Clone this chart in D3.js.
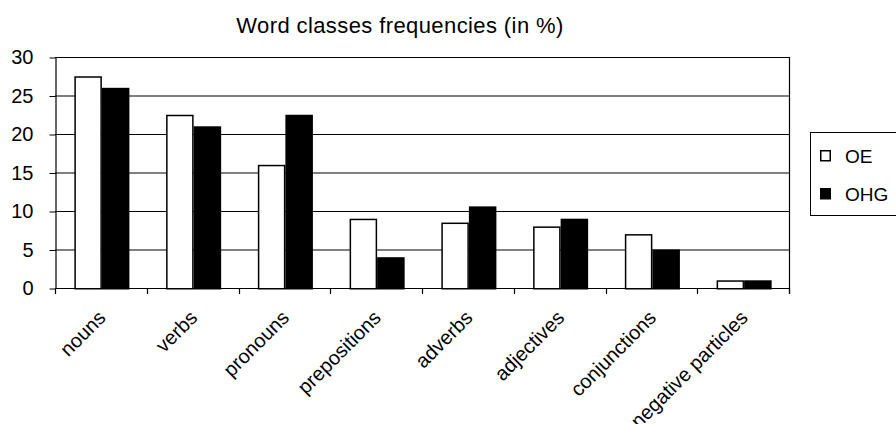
<!DOCTYPE html>
<html>
<head>
<meta charset="utf-8">
<script src="https://cdn.jsdelivr.net/npm/d3@7"></script>
<style>
  body { margin: 0; background: #fff; }
  svg { display: block; font-family: "Liberation Sans", Arial, sans-serif; }
</style>
</head>
<body>
<div id="chart"></div>
<script>
const categories = ["nouns", "verbs", "pronouns", "prepositions", "adverbs", "adjectives", "conjunctions", "negative particles"];
const seriesNames = ["OE", "OHG"];
const oe  = [27.5, 22.5, 16, 9, 8.5, 8, 7, 1];
const ohg = [26, 21, 22.5, 4, 10.6, 9, 5, 1];
const yTicks = [0, 5, 10, 15, 20, 25, 30];
const title = "Word classes frequencies (in %)";

const width = 896, height = 424;
const mLeft = 55, mRight = 789, mTop = 57, mBottom = 288;

let svg = d3.select("#chart").append("svg")
    .attr("width", width)
    .attr("height", height);

const x = d3.scaleBand().domain(categories).range([mLeft, mRight]).paddingInner(0.4).paddingOuter(0.2);
const x1 = d3.scaleBand().domain(seriesNames).range([0, x.bandwidth()]);
const y = d3.scaleLinear().domain([0, 30]).range([mBottom, mTop]);
const fills = {OE: "#fff", OHG: "#000"};

// gridlines
svg.append("g").selectAll("line")
    .data(yTicks)
    .join("line")
    .attr("x1", mLeft).attr("x2", mRight)
    .attr("y1", d => y(d) + 0.5).attr("y2", d => y(d) + 0.5)
    .attr("stroke", "#000").attr("stroke-width", 1.2);

// right border
svg.append("line")
    .attr("x1", mRight + 0.5).attr("x2", mRight + 0.5)
    .attr("y1", mTop).attr("y2", mBottom + 6)
    .attr("stroke", "#000").attr("stroke-width", 1.2);

// bars
let rows = categories.map((c, i) => ({cat: c, vals: [{k: "OE", v: oe[i]}, {k: "OHG", v: ohg[i]}]}));
let groups = svg.append("g").selectAll("g")
    .data(rows)
    .join("g")
    .attr("transform", d => `translate(${x(d.cat) + 1},0)`);

groups.selectAll("rect")
    .data(d => d.vals)
    .join("rect")
    .attr("x", d => x1(d.k) + 0.75)
    .attr("y", d => y(d.v) + 0.75)
    .attr("width", x1.bandwidth() - 1.5)
    .attr("height", d => y(0) - y(d.v))
    .attr("fill", d => fills[d.k])
    .attr("stroke", "#000")
    .attr("stroke-width", 1.5);

// y axis
let yAxis = svg.append("g")
    .attr("transform", `translate(${mLeft + 0.5},0.5)`)
    .call(d3.axisLeft(y).tickValues(yTicks).tickSize(6).tickPadding(16).tickSizeOuter(0));
yAxis.select(".domain").attr("stroke-width", 1.2);
yAxis.selectAll("text").attr("font-size", 20).attr("fill", "#000").attr("font-family", "Liberation Sans, Arial, sans-serif");

// x axis: ticks at category boundaries
const step = x.step();
const boundaries = d3.range(categories.length + 1).map(i => mLeft + i * step);
svg.append("g").selectAll("line")
    .data(boundaries)
    .join("line")
    .attr("x1", d => Math.round(d) + 0.5).attr("x2", d => Math.round(d) + 0.5)
    .attr("y1", mBottom).attr("y2", mBottom + 6)
    .attr("stroke", "#000").attr("stroke-width", 1.2);

svg.append("g").selectAll("text")
    .data(categories)
    .join("text")
    .attr("transform", d => `translate(${x(d) + x.bandwidth() / 2 + 6},${mBottom + 31}) rotate(-45)`)
    .attr("text-anchor", "end")
    .attr("font-size", 20)
    .text(d => d);

// title
svg.append("text")
    .attr("x", 400).attr("y", 33)
    .attr("text-anchor", "middle")
    .attr("font-size", 22)
    .attr("letter-spacing", 0.4)
    .text(title);

// legend
let legend = svg.append("g");
legend.append("rect")
    .attr("x", 810.5).attr("y", 132.5)
    .attr("width", 100).attr("height", 83)
    .attr("fill", "#fff").attr("stroke", "#000");
let items = legend.selectAll("g.item")
    .data(seriesNames)
    .join("g")
    .attr("class", "item")
    .attr("transform", (d, i) => `translate(0,${150 + i * 38})`);
items.append("rect")
    .attr("x", 820.75).attr("y", 0.75)
    .attr("width", 9.5).attr("height", 10)
    .attr("fill", d => fills[d])
    .attr("stroke", "#000").attr("stroke-width", 1.5);
items.append("text")
    .attr("x", 845).attr("y", 13)
    .attr("font-size", 19)
    .text(d => d);
</script>
</body>
</html>
